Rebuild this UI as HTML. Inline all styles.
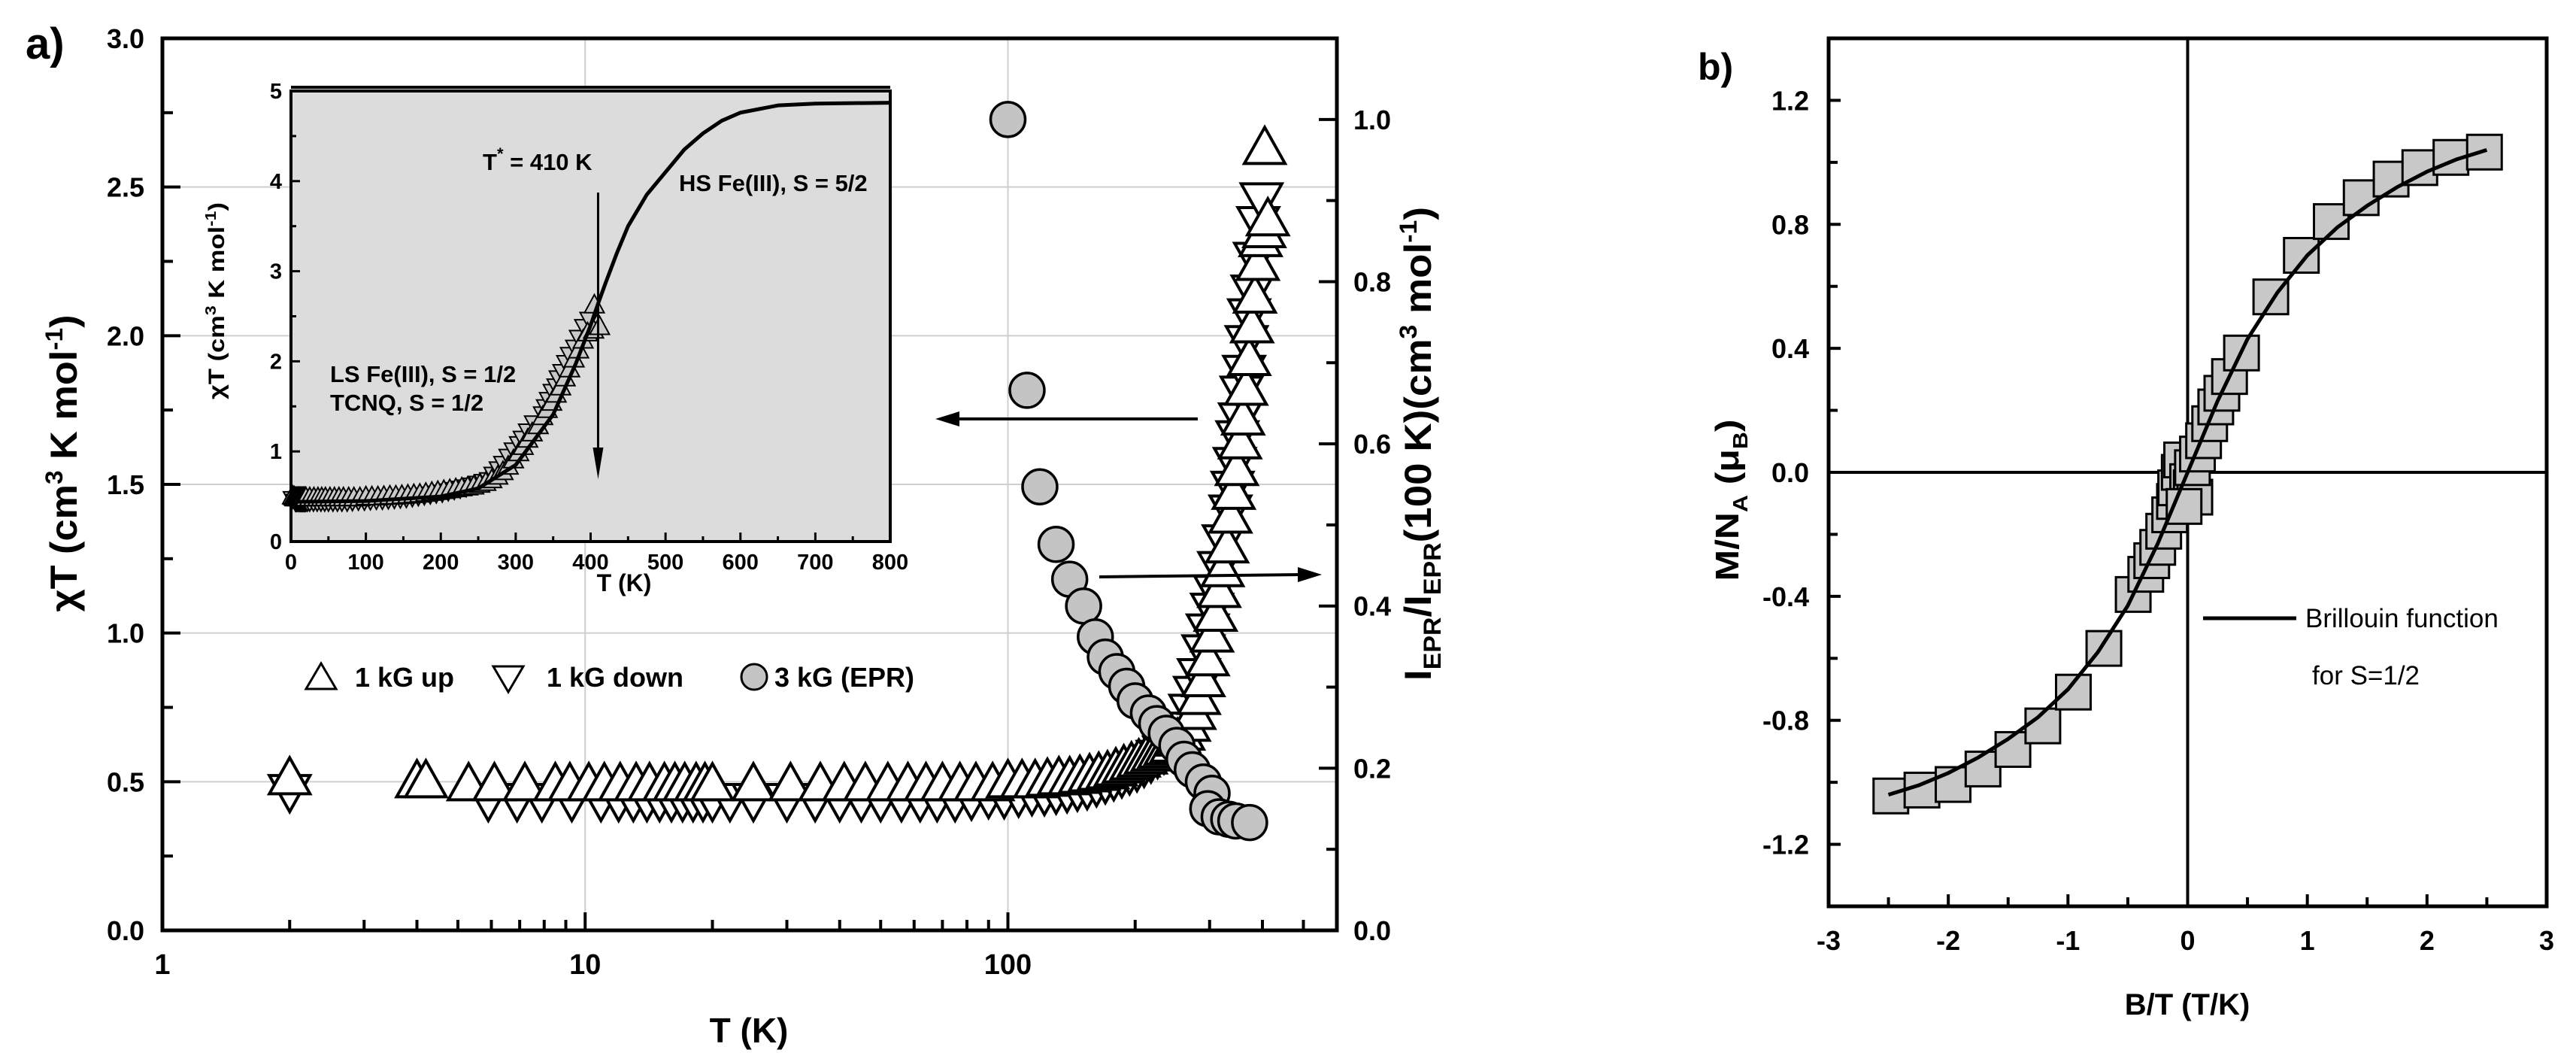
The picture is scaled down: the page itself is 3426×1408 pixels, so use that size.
<!DOCTYPE html>
<html><head><meta charset="utf-8"><style>
html,body{margin:0;padding:0;background:#fff;}
svg{display:block;font-family:"Liberation Sans",sans-serif;font-weight:bold;}
</style></head><body>
<svg id="fig" xmlns="http://www.w3.org/2000/svg" width="3426" height="1408" viewBox="0 0 3426 1408">
<rect x="0" y="0" width="3426" height="1408" fill="#fff"/>
<g id="pa"></g>
<g id="pb"></g>
</svg>
<script>
// ---- Panel a data ----
const T_UP=[2,4.0,4.2,5.3,6.1,7.2,8.5,9.2,10.2,11.1,12.1,13.2,14.2,15.4,16.3,17.2,18.3,19.2,20,25,30.6,36,41,46,52,58,64,70,77,84,92,100,108,116,124,132,140,148,156,164,172,180,188,196,204,212,220,228,236,244,252,260,268,276,283,290,297,304,310,316,322,330,336,342,348,354,360,366,372,378,384,390,396,404,412,405];
const CHI_UP=[0.52,0.51,0.51,0.50,0.50,0.50,0.50,0.50,0.50,0.50,0.50,0.50,0.50,0.50,0.50,0.50,0.50,0.50,0.50,0.50,0.50,0.50,0.50,0.50,0.50,0.50,0.50,0.50,0.50,0.50,0.50,0.51,0.51,0.51,0.515,0.52,0.52,0.525,0.53,0.535,0.54,0.55,0.56,0.57,0.58,0.59,0.60,0.61,0.62,0.63,0.65,0.67,0.70,0.74,0.79,0.85,0.92,1.0,1.07,1.15,1.22,1.30,1.40,1.48,1.56,1.65,1.73,1.83,1.93,2.04,2.14,2.25,2.33,2.36,2.40,2.64];
const T_DOWN=[2,5.9,6.9,7.9,9.3,10.9,12,13,14,15,16,17,18,19,20,22,25,30,35,40,45,50,56,62,68,75,82,90,98,106,114,122,130,138,146,154,162,170,178,186,194,202,210,218,226,234,242,250,257,264,270,277,283,290,297,304,309,316,324,336,340,344,349,354,357,362,367,372,379,384,391,398];
const CHI_DOWN=[0.46,0.43,0.43,0.43,0.43,0.43,0.43,0.43,0.43,0.43,0.43,0.43,0.43,0.43,0.43,0.43,0.43,0.43,0.43,0.43,0.43,0.43,0.43,0.43,0.43,0.43,0.435,0.44,0.44,0.445,0.45,0.45,0.455,0.46,0.465,0.47,0.48,0.49,0.50,0.51,0.52,0.53,0.545,0.56,0.575,0.59,0.61,0.63,0.65,0.67,0.73,0.79,0.85,0.93,1.0,1.07,1.13,1.21,1.30,1.40,1.48,1.56,1.65,1.71,1.80,1.87,1.97,2.06,2.14,2.25,2.37,2.45];
const T_EPR=[100,111,119,130,140,151,161,170,181,191,200,215,225,237,251,261,273,290,304,297,316,333,346,373];
const I_EPR=[1.0,0.666,0.547,0.476,0.433,0.40,0.362,0.337,0.319,0.301,0.283,0.268,0.255,0.243,0.228,0.211,0.198,0.183,0.169,0.150,0.140,0.137,0.135,0.133];
const INSET_T=[0,100,200,250,300,350,380,400,410,420,435,450,475,500,525,550,575,600,650,700,800];
const INSET_CHI=[0.44,0.45,0.50,0.59,0.85,1.41,1.97,2.4,2.64,2.87,3.2,3.5,3.85,4.1,4.35,4.53,4.67,4.76,4.84,4.86,4.87];
const A_YTICKS=[0.0,0.5,1.0,1.5,2.0,2.5,3.0];
const A_YTICK_LABELS=["0.0","0.5","1.0","1.5","2.0","2.5","3.0"];
const A_RTICKS=[0.0,0.2,0.4,0.6,0.8,1.0];
const A_RTICK_LABELS=["0.0","0.2","0.4","0.6","0.8","1.0"];
const A_XTICKS=[1,10,100];
const A_XTICK_LABELS=["1","10","100"];
const IN_XTICKS=[0,100,200,300,400,500,600,700,800];
const IN_YTICKS=[0,1,2,3,4,5];
// ---- Panel b data ----
const B_X=[-2.48,-2.22,-1.96,-1.71,-1.46,-1.21,-0.955,-0.70,-0.455,-0.35,-0.30,-0.25,-0.20,-0.15,-0.11,-0.10,-0.07,-0.05,0.0,0.03,0.06,-0.03,0.04,0.082,0.133,0.184,0.235,0.286,0.35,0.45,0.695,0.95,1.20,1.45,1.70,1.94,2.20,2.48];
const B_M=[-1.044,-1.025,-1.007,-0.957,-0.894,-0.818,-0.709,-0.568,-0.394,-0.329,-0.285,-0.242,-0.19,-0.137,-0.094,-0.05,0.0,0.04,-0.03,-0.05,-0.08,-0.11,0.015,0.059,0.102,0.157,0.211,0.255,0.309,0.385,0.566,0.70,0.809,0.886,0.946,0.983,1.016,1.033];
const BRIL_X=[-2.5,-2.25,-2,-1.75,-1.5,-1.25,-1,-0.75,-0.5,-0.25,0,0.25,0.5,0.75,1,1.25,1.5,1.75,2,2.25,2.5];
const BRIL_Y=[-1.04,-1.01,-0.97,-0.92,-0.86,-0.79,-0.70,-0.58,-0.43,-0.23,0,0.23,0.43,0.58,0.70,0.79,0.86,0.92,0.97,1.01,1.04];
const B_XTICKS=[-3,-2,-1,0,1,2,3];
const B_XTICK_LABELS=["-3","-2","-1","0","1","2","3"];
const B_YTICKS=[-1.2,-0.8,-0.4,0.0,0.4,0.8,1.2];
const B_YTICK_LABELS=["-1.2","-0.8","-0.4","0.0","0.4","0.8","1.2"];

const NS="http://www.w3.org/2000/svg";
function mk(tag,attrs,parent){const e=document.createElementNS(NS,tag);for(const k in attrs)e.setAttribute(k,attrs[k]);parent.appendChild(e);return e;}
function txt(s,attrs,parent){const e=mk('text',attrs,parent);e.textContent=s;return e;}
const pa=document.getElementById('pa'), pb=document.getElementById('pb');

// ---- Panel a axes ----
const AL=216,AR=1778,AT=51,AB=1237;
const xA=t=>AL+(Math.log10(t)-0)/Math.log10(600)*(AR-AL);
const yA=v=>AB-v/3.0*(AB-AT);
const yR=v=>AB-v/1.1*(AB-AT);

for(const t of [10,100]){const g=mk('line',{x1:xA(t),x2:xA(t),y1:AT,y2:AB,stroke:'#cfcfcf','stroke-width':2},pa);

}
for(const v of [0.5,1.0,1.5,2.0,2.5]){const g=mk('line',{x1:AL,x2:AR,y1:yA(v),y2:yA(v),stroke:'#cfcfcf','stroke-width':2},pa);

}

// ---- Inset ----
const IL=387,IR=1184,IT=121,IB=720;
const xI=t=>IL+t/800*(IR-IL);
const yI=v=>IB-v/5*(IB-IT);
const inset=mk('g',{},pa);


const ibg=mk('rect',{x:IL,y:IT-5,width:IR-IL,height:IB-IT+5,fill:'#dcdcdc'},inset);


for(const t of IN_XTICKS){mk('line',{x1:xI(t),x2:xI(t),y1:IB,y2:IB-12,stroke:'#000','stroke-width':3},inset);
const l=txt(String(t),{x:xI(t),y:IB+37,'font-size':29,'text-anchor':'middle'},inset);

}
for(const t of [50,150,250,350,450,550,650,750])mk('line',{x1:xI(t),x2:xI(t),y1:IB,y2:IB-7,stroke:'#000','stroke-width':3},inset);
for(const v of IN_YTICKS){mk('line',{x1:IL,x2:IL+12,y1:yI(v),y2:yI(v),stroke:'#000','stroke-width':3},inset);
const l=txt(String(v),{x:IL-12,y:yI(v)+10,'font-size':29,'text-anchor':'end'},inset);

}
for(const v of [0.5,1.5,2.5,3.5,4.5])mk('line',{x1:IL,x2:IL+7,y1:yI(v),y2:yI(v),stroke:'#000','stroke-width':3},inset);
function tri(parent,cx,cy,w,h,up,fill,sw){
 const p=up?`${cx-w/2},${cy+h/2} ${cx+w/2},${cy+h/2} ${cx},${cy-h/2}`:`${cx-w/2},${cy-h/2} ${cx+w/2},${cy-h/2} ${cx},${cy+h/2}`;
 return mk('polygon',{points:p,fill:fill,stroke:'#000','stroke-width':sw,'stroke-linejoin':'miter'},parent);}
T_DOWN.forEach((t,i)=>{const m=tri(inset,xI(t),yI(CHI_DOWN[i]),24,22,false,'#c8c8c8',2);

});
T_UP.forEach((t,i)=>{const m=tri(inset,xI(t),yI(CHI_UP[i]),26,24,true,'#c8c8c8',2);

});
const ic=mk('polyline',{points:INSET_T.map((t,i)=>xI(t)+','+yI(INSET_CHI[i])).join(' '),fill:'none',stroke:'#000','stroke-width':5,'stroke-linejoin':'round'},inset);


const ia=mk('line',{x1:xI(410),x2:xI(410),y1:256,y2:600,stroke:'#000','stroke-width':3},inset);


mk('polygon',{points:`${xI(410)-7},595 ${xI(410)+7},595 ${xI(410)},637`,fill:'#000'},inset);
const ifr=mk('path',{d:`M${IL},${IT-5} H${IR} M${IL},${IT} H${IR} V${IB} H${IL} Z`,fill:'none',stroke:'#000','stroke-width':4},inset);


let e;
e=txt('',{x:642,y:226,'font-size':31},inset);e.innerHTML='T<tspan dy="-14" font-size="22">*</tspan><tspan dy="14"> = 410 K</tspan>';


e=txt('HS Fe(III), S = 5/2',{x:903,y:254,'font-size':31},inset);


e=txt('LS Fe(III), S = 1/2',{x:439,y:508,'font-size':31},inset);


e=txt('TCNQ, S = 1/2',{x:439,y:546,'font-size':31},inset);


e=txt('T (K)',{x:830,y:786,'font-size':32,'text-anchor':'middle'},inset);


e=txt('',{x:0,y:0,'font-size':30,'text-anchor':'middle',textLength:262,lengthAdjust:'spacingAndGlyphs',transform:'translate(298,400) rotate(-90)'},inset);
e.innerHTML='χT (cm<tspan dy="-11" font-size="20">3</tspan><tspan dy="11"> K mol</tspan><tspan dy="-11" font-size="20">-1</tspan><tspan dy="11">)</tspan>';



// ---- main series ----
T_DOWN.forEach((t,i)=>{const m=tri(pa,xA(t),yA(CHI_DOWN[i]),54,48,false,'#fff',4);

});
T_UP.forEach((t,i)=>{const m=tri(pa,xA(t),yA(CHI_UP[i]),54,48,true,'#fff',4);

});
T_EPR.forEach((t,i)=>{const m=mk('circle',{cx:xA(t),cy:yR(I_EPR[i]),r:23,fill:'#c4c4c4',stroke:'#000','stroke-width':3.5},pa);

});

e=mk('line',{x1:1593,x2:1270,y1:557,y2:557,stroke:'#000','stroke-width':4},pa);


mk('polygon',{points:'1244,557 1276,547 1276,567',fill:'#000'},pa);
e=mk('line',{x1:1462,x2:1730,y1:767,y2:764,stroke:'#000','stroke-width':4},pa);


mk('polygon',{points:'1758,764 1726,754 1726,774',fill:'#000'},pa);

e=mk('rect',{x:AL,y:AT,width:AR-AL,height:AB-AT,fill:'none',stroke:'#000','stroke-width':5},pa);


A_XTICKS.forEach((t,i)=>{mk('line',{x1:xA(t),x2:xA(t),y1:AB,y2:AB-24,stroke:'#000','stroke-width':4},pa);
const l=txt(A_XTICK_LABELS[i],{x:xA(t),y:AB+58,'font-size':38,'text-anchor':'middle'},pa);

});
for(const d of [1,10,100])for(let k=2;k<=9;k++){const t=d*k;if(t>600)break;mk('line',{x1:xA(t),x2:xA(t),y1:AB,y2:AB-14,stroke:'#000','stroke-width':4},pa);}
A_YTICKS.forEach((v,i)=>{mk('line',{x1:AL,x2:AL+24,y1:yA(v),y2:yA(v),stroke:'#000','stroke-width':4},pa);
const l=txt(A_YTICK_LABELS[i],{x:AL-24,y:yA(v)+13,'font-size':36,'text-anchor':'end'},pa);

});
for(const v of [0.25,0.75,1.25,1.75,2.25,2.75])mk('line',{x1:AL,x2:AL+14,y1:yA(v),y2:yA(v),stroke:'#000','stroke-width':4},pa);
A_RTICKS.forEach((v,i)=>{mk('line',{x1:AR,x2:AR-24,y1:yR(v),y2:yR(v),stroke:'#000','stroke-width':4},pa);
const l=txt(A_RTICK_LABELS[i],{x:AR+22,y:yR(v)+13,'font-size':36,'text-anchor':'start'},pa);

});
for(const v of [0.1,0.3,0.5,0.7,0.9])mk('line',{x1:AR,x2:AR-14,y1:yR(v),y2:yR(v),stroke:'#000','stroke-width':4},pa);

e=txt('a)',{x:34,y:78,'font-size':58},pa);


e=txt('T (K)',{x:996,y:1386,'font-size':46,'text-anchor':'middle'},pa);


e=txt('',{x:0,y:0,'font-size':50,'text-anchor':'middle',textLength:395,lengthAdjust:'spacingAndGlyphs',transform:'translate(102,616) rotate(-90)'},pa);
e.innerHTML='χT (cm<tspan dy="-19" font-size="32">3</tspan><tspan dy="19"> K mol</tspan><tspan dy="-19" font-size="32">-1</tspan><tspan dy="19">)</tspan>';


e=txt('',{x:0,y:0,'font-size':50,'text-anchor':'middle',textLength:630,lengthAdjust:'spacingAndGlyphs',transform:'translate(1903,590) rotate(-90)'},pa);
e.innerHTML='I<tspan dy="13" font-size="32">EPR</tspan><tspan dy="-13">/I</tspan><tspan dy="13" font-size="32">EPR</tspan><tspan dy="-13">(100 K)(cm</tspan><tspan dy="-19" font-size="32">3</tspan><tspan dy="19"> mol</tspan><tspan dy="-19" font-size="32">-1</tspan><tspan dy="19">)</tspan>';



const lg=mk('g',{},pa);


e=tri(lg,427,899,40,34,true,'#fff',3);


e=txt('1 kG up',{x:472,y:913,'font-size':36},lg);


e=tri(lg,676,903,40,34,false,'#fff',3);


e=txt('1 kG down',{x:727,y:913,'font-size':36},lg);


e=mk('circle',{cx:1003,cy:900,r:17,fill:'#c4c4c4',stroke:'#000','stroke-width':3},lg);


e=txt('3 kG (EPR)',{x:1030,y:913,'font-size':36},lg);



// ---- Panel b ----
const BL=2432,BR=3387,BT=51,BB=1205;
const xB=v=>BL+(v+3)/6*(BR-BL);
const yB=v=>BB-(v+1.4)/2.8*(BB-BT);
e=mk('line',{x1:xB(0),x2:xB(0),y1:BT,y2:BB,stroke:'#000','stroke-width':4},pb);


e=mk('line',{x1:BL,x2:BR,y1:yB(0),y2:yB(0),stroke:'#000','stroke-width':4},pb);


B_X.forEach((x,i)=>{const m=mk('rect',{x:xB(x)-23,y:yB(B_M[i])-23,width:46,height:46,fill:'#c8c8c8',stroke:'#000','stroke-width':3},pb);

});
e=mk('polyline',{points:BRIL_X.map((x,i)=>xB(x)+','+yB(BRIL_Y[i])).join(' '),fill:'none',stroke:'#000','stroke-width':5,'stroke-linejoin':'round'},pb);


e=mk('rect',{x:BL,y:BT,width:BR-BL,height:BB-BT,fill:'none',stroke:'#000','stroke-width':5},pb);


B_XTICKS.forEach((v,i)=>{mk('line',{x1:xB(v),x2:xB(v),y1:BB,y2:BB-16,stroke:'#000','stroke-width':4},pb);
const l=txt(B_XTICK_LABELS[i],{x:xB(v),y:BB+58,'font-size':36,'text-anchor':'middle'},pb);

});
for(const v of [-2.5,-1.5,-0.5,0.5,1.5,2.5])mk('line',{x1:xB(v),x2:xB(v),y1:BB,y2:BB-12,stroke:'#000','stroke-width':4},pb);
B_YTICKS.forEach((v,i)=>{mk('line',{x1:BL,x2:BL+16,y1:yB(v),y2:yB(v),stroke:'#000','stroke-width':4},pb);
const l=txt(B_YTICK_LABELS[i],{x:BL-26,y:yB(v)+13,'font-size':36,'text-anchor':'end'},pb);

});
for(const v of [-1.0,-0.6,-0.2,0.2,0.6,1.0])mk('line',{x1:BL,x2:BL+12,y1:yB(v),y2:yB(v),stroke:'#000','stroke-width':4},pb);
e=txt('b)',{x:2258,y:106,'font-size':50},pb);


e=txt('B/T (T/K)',{x:2909,y:1349,'font-size':40,'text-anchor':'middle'},pb);


e=txt('',{x:0,y:0,'font-size':44,'text-anchor':'middle',textLength:215,lengthAdjust:'spacingAndGlyphs',transform:'translate(2312,665) rotate(-90)'},pb);
e.innerHTML='M/N<tspan dy="12" font-size="28">A</tspan><tspan dy="-12"> (μ</tspan><tspan dy="12" font-size="28">B</tspan><tspan dy="-12">)</tspan>';


e=mk('line',{x1:2930,x2:3054,y1:822,y2:822,stroke:'#000','stroke-width':5},pb);


e=txt('Brillouin function',{x:3066,y:834,'font-size':35,'font-weight':'normal'},pb);


e=txt('for S=1/2',{x:3075,y:910,'font-size':35,'font-weight':'normal'},pb);


</script>
</body></html>
